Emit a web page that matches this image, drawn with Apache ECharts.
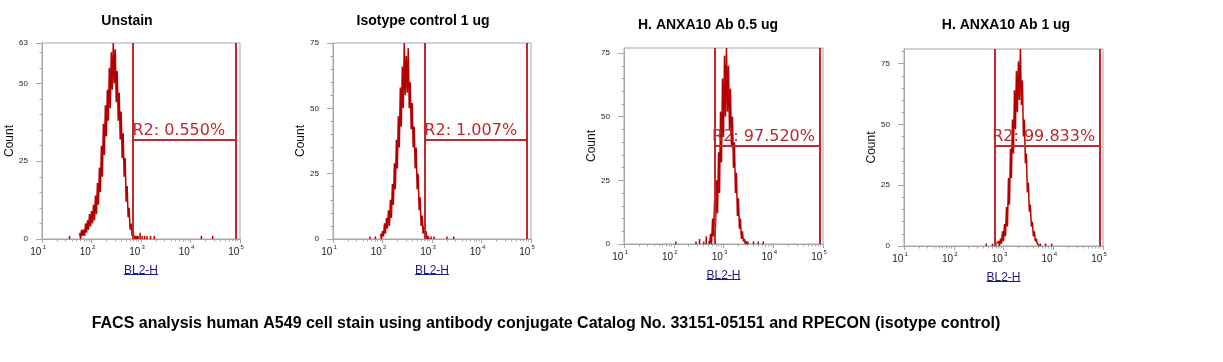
<!DOCTYPE html>
<html><head><meta charset="utf-8">
<script src="https://cdn.jsdelivr.net/npm/echarts@6/dist/echarts.min.js"></script>
<style>html,body{margin:0;padding:0;background:#fff}#c{width:1223px;height:362px}</style>
</head><body><div id="c"></div>
<script>
// ---------------- data ----------------
const panelTitles = ['Unstain', 'Isotype control 1 ug', 'H. ANXA10 Ab 0.5 ug', 'H. ANXA10 Ab 1 ug'];
const caption = 'FACS analysis human A549 cell stain using antibody conjugate Catalog No. 33151-05151 and RPECON (isotype control)';
const xAxisName = 'BL2-H';
const yAxisName = 'Count';
const xTickValues = [10, 100, 1000, 10000, 100000];
const yMax = [63, 75, 77, 81];
const yTickValues = [[0, 25, 50, 63], [0, 25, 50, 75], [0, 25, 50, 75], [0, 25, 50, 75]];

// histogram channels: log10 of first channel, channel width in decades
const binStep = 0.02;
const histStart = [1.76, 1.96, 2.70, 2.88];
const counts1 = [2,0,3,1,3,1,5,2,6,3,8,4,9,5,11,6,14,8,18,11,23,15,30,20,37,27,43,33,48,38,55,42,60,48,63,50,61,44,54,38,47,32,41,26,34,20,26,12,17,7,10,3,5,1,3,0,1,0,1,0];
const counts2 = [2,0,3,1,6,2,8,4,11,5,15,8,21,13,29,19,38,27,47,35,58,43,66,50,75,55,70,56,73,50,60,42,52,35,43,27,35,19,25,11,16,5,9,2,5,1,3,0,1,0];
const counts3 = [1,0,4,0,10,3,17,7,25,12,36,20,52,32,65,42,74,50,77,52,70,45,61,38,50,30,40,20,28,11,18,6,10,2,5,1,2,0,1,0];
const counts4 = [1,2,0,3,1,6,2,9,4,16,8,28,17,40,28,52,38,64,48,72,55,76,60,81,58,68,45,52,34,38,22,26,14,17,8,10,4,6,2,3,1,1,0];
const histCounts = [counts1, counts2, counts3, counts4];

// isolated events [BL2-H, count]
const events1 = [[36,1],[870,1],[960,2],[1050,1],[1180,1],[1320,1],[1560,1],[1850,1],[16600,1],[28000,1]];
const events2 = [[56,1],[72,1],[960,1],[1100,1],[2000,1],[2750,1]];
const events3 = [[110,1],[280,1],[330,2],[400,1],[450,3],[3100,1],[4000,1],[5000,1],[6300,1]];
const events4 = [[450,1],[600,1],[700,2],[5500,1],[7000,1],[9300,1]];
const histEvents = [events1, events2, events3, events4];

// R2 gate
const gateLow = [670, 700, 676, 680];
const gateHigh = [81800, 83000, 85000, 86500];
const gateCount = [32, 38, 38.7, 41.2];
const gateLabels = ['R2: 0.550%', 'R2: 1.007%', 'R2: 97.520%', 'R2: 99.833%'];

// ---------------- layout / style ----------------
const grids = [
  {left: 42, top: 43, width: 198, height: 196},
  {left: 333, top: 43, width: 198, height: 196},
  {left: 624, top: 48, width: 199, height: 196},
  {left: 904, top: 49, width: 199, height: 197}
];
const titlePos = [[127, 21], [423, 21], [708, 25], [1006, 25]];
const gateLabelDx = [0, 0, -3, -3];
const RED = '#b40000';
const GATE = '#c0282c';
const GRAY = '#a6a6a6';
const FONT = 'Liberation Sans, Arial, sans-serif';

function channels(p) {
  return histCounts[p].map((c, i) => [Math.pow(10, histStart[p] + i * binStep), c]);
}
function minorLogTicks() {
  const out = [];
  for (let d = 10; d < 100000; d *= 10) for (let k = 2; k <= 9; k++) out.push(d * k);
  return out;
}
function minorYTicks(max) {
  const out = [];
  for (let v = 5; v < max; v += 5) if (v % 25) out.push(v);
  return out;
}

const xAxes = [], yAxes = [], series = [], graphics = [];
for (let p = 0; p < 4; p++) {
  xAxes.push({
    gridIndex: p, type: 'log', logBase: 10, min: 10, max: 100000, position: 'bottom',
    axisLine: {show: true, lineStyle: {color: GRAY, width: 1}},
    axisTick: {show: true, length: 4, lineStyle: {color: GRAY}, customValues: xTickValues},
    splitLine: {show: false},
    axisLabel: {
      show: true, margin: 5, customValues: xTickValues,
      formatter: v => '{b|10}{s|' + Math.round(Math.log10(v)) + '}',
      rich: {
        b: {fontSize: 10, fontFamily: FONT, color: '#222', verticalAlign: 'bottom', lineHeight: 13},
        s: {fontSize: 6, fontFamily: FONT, color: '#222', verticalAlign: 'top', lineHeight: 13, padding: [0, 8, 0, 1]}
      }
    },
    name: xAxisName, nameLocation: 'middle', nameGap: 26,
    nameTextStyle: {fontSize: 12, fontFamily: FONT, color: '#1c1c8c'}
  });
  xAxes.push({
    gridIndex: p, type: 'log', logBase: 10, min: 10, max: 100000, position: 'bottom',
    axisLine: {show: false},
    axisTick: {show: true, length: 2.5, lineStyle: {color: GRAY}, customValues: minorLogTicks()},
    axisLabel: {show: false}, splitLine: {show: false}
  });
  yAxes.push({
    gridIndex: p, type: 'value', min: 0, max: yMax[p], position: 'left',
    axisLine: {show: true, lineStyle: {color: GRAY, width: 1}},
    axisTick: {show: true, length: 6, lineStyle: {color: GRAY}, customValues: yTickValues[p]},
    splitLine: {show: false},
    axisLabel: {show: true, margin: 14, customValues: yTickValues[p], fontSize: 8, fontFamily: FONT, color: '#222'},
    name: yAxisName, nameLocation: 'middle', nameGap: 22, nameRotate: 90,
    nameTextStyle: {fontSize: 12, fontFamily: FONT, color: '#111'}
  });
  yAxes.push({
    gridIndex: p, type: 'value', min: 0, max: yMax[p], position: 'left',
    axisLine: {show: false},
    axisTick: {show: true, length: 2.5, lineStyle: {color: GRAY}, customValues: minorYTicks(yMax[p])},
    axisLabel: {show: false}, splitLine: {show: false}
  });

  series.push({
    type: 'line', xAxisIndex: 2 * p, yAxisIndex: 2 * p, data: channels(p),
    showSymbol: false, symbol: 'none', animation: false, z: 3,
    lineStyle: {color: RED, width: 1.5},
    markLine: {
      silent: true, symbol: ['none', 'none'], animation: false,
      lineStyle: {color: GATE, width: 2, type: 'solid'},
      label: {show: false},
      data: [
        {xAxis: gateLow[p]},
        {xAxis: gateHigh[p]},
        [
          {coord: [gateLow[p], gateCount[p]],
           label: {show: true, position: 'insideStartTop', formatter: gateLabels[p], distance: [gateLabelDx[p], 1],
                   color: GATE, fontSize: 16, fontFamily: 'DejaVu Sans, sans-serif'}},
          {coord: [gateHigh[p], gateCount[p]]}
        ]
      ]
    }
  });
  series.push({
    type: 'custom', xAxisIndex: 2 * p, yAxisIndex: 2 * p, data: histEvents[p], animation: false, z: 3,
    renderItem: (params, api) => {
      const a = api.coord([api.value(0), 0]);
      const b = api.coord([api.value(0), api.value(1)]);
      return {type: 'line', shape: {x1: a[0], y1: a[1], x2: b[0], y2: b[1]}, style: {stroke: RED, lineWidth: 1.5}};
    }
  });

  graphics.push({
    type: 'text', x: titlePos[p][0], y: titlePos[p][1],
    style: {text: panelTitles[p], fill: '#000', font: 'bold 14px ' + FONT, textAlign: 'center', textVerticalAlign: 'middle'}
  });
  const g = grids[p];
  graphics.push({
    type: 'line', shape: {x1: g.left + g.width / 2 - 17, y1: g.top + g.height + 35.5, x2: g.left + g.width / 2 + 17, y2: g.top + g.height + 35.5},
    style: {stroke: '#1c1c8c', lineWidth: 1}
  });
}
graphics.push({
  type: 'text', x: 546, y: 324,
  style: {text: caption, fill: '#000', font: 'bold 16px ' + FONT, textAlign: 'center', textVerticalAlign: 'middle'}
});

const chart = echarts.init(document.getElementById('c'), null, {renderer: 'canvas'});
chart.setOption({
  animation: false,
  backgroundColor: '#fff',
  grid: grids.map(g => Object.assign({show: true, borderColor: GRAY, borderWidth: 1, backgroundColor: 'transparent', containLabel: false}, g)),
  xAxis: xAxes,
  yAxis: yAxes,
  series: series,
  graphic: graphics
});
</script>
</body></html>
